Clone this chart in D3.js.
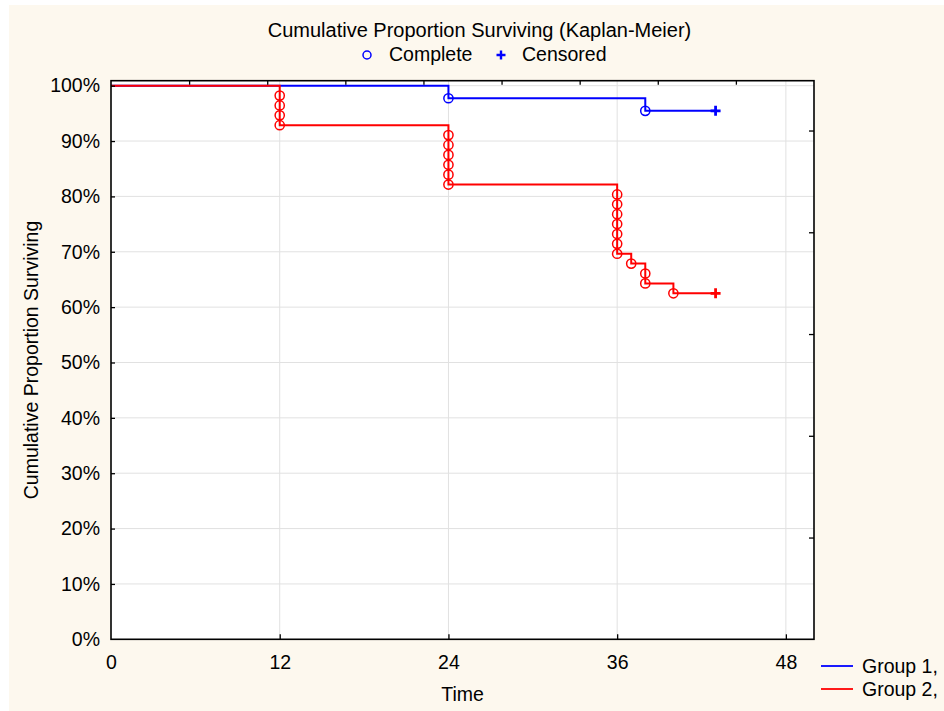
<!DOCTYPE html>
<html>
<head>
<meta charset="utf-8">
<script src="https://cdn.jsdelivr.net/npm/d3@7"></script>
<style>
  html, body { margin: 0; padding: 0; background: #ffffff; }
  svg { display: block; }
  text { font-family: "Liberation Sans", Arial, Helvetica, sans-serif; fill: #000; }
</style>
</head>
<body>
<svg id="chart" width="944" height="711"></svg>
<script>
// Kaplan-Meier estimates per group (time in months, proportion surviving)
const xTicks = [0, 12, 24, 36, 48];
const yTicks = [0, 0.1, 0.2, 0.3, 0.4, 0.5, 0.6, 0.7, 0.8, 0.9, 1.0];
const topTicks = [50 / 9, 100 / 9, 150 / 9, 200 / 9, 250 / 9, 300 / 9, 350 / 9, 400 / 9];
const rightTicks = [0.1838, 0.3676, 0.5514, 0.7352, 0.919];

const groupNames = ["Group 1,", "Group 2,"];
const groupColors = ["#0000ff", "#ff0000"];

// Group 1: complete observations and censored observation
const g1CompleteTime = [24, 38];
const g1CompleteSurv = [0.9773, 0.9545];
const g1CensoredTime = [43];
const g1CensoredSurv = [0.9545];

// Group 2: complete observations and censored observation
const g2CompleteTime = [12, 12, 12, 12, 24, 24, 24, 24, 24, 24, 36, 36, 36, 36, 36, 36, 36, 37, 38, 38, 40];
const g2CompleteSurv = [0.9821, 0.9643, 0.9464, 0.9286,
  0.9107, 0.8929, 0.8750, 0.8571, 0.8393, 0.8214,
  0.8036, 0.7857, 0.7679, 0.7500, 0.7321, 0.7143, 0.6964,
  0.6786, 0.6607, 0.6429, 0.6250];
const g2CensoredTime = [43];
const g2CensoredSurv = [0.6250];

const groups = [
  { complete: g1CompleteTime.map((t, i) => [t, g1CompleteSurv[i]]),
    censored: g1CensoredTime.map((t, i) => [t, g1CensoredSurv[i]]) },
  { complete: g2CompleteTime.map((t, i) => [t, g2CompleteSurv[i]]),
    censored: g2CensoredTime.map((t, i) => [t, g2CensoredSurv[i]]) }
];

const svg = d3.select("#chart");
const W = 944, H = 711;
const plot = { left: 111, right: 814, top: 80.7, bottom: 639.3 };

// page background
svg.append("rect").attr("x", 9).attr("y", 5).attr("width", W - 9).attr("height", H - 5)
  .attr("fill", "#fdf8ee");

const x = d3.scaleLinear().domain([0, 50]).range([plot.left, plot.right]);
const y = d3.scaleLinear().domain([0, 1.009]).range([plot.bottom, plot.top]);

// plot area
svg.append("rect")
  .attr("x", plot.left).attr("y", plot.top)
  .attr("width", plot.right - plot.left).attr("height", plot.bottom - plot.top)
  .attr("fill", "#ffffff");

// grid
const grid = svg.append("g").attr("stroke", "#e1e1e1").attr("stroke-width", 1);
grid.selectAll("line.v").data(xTicks.filter(d => d > 0)).join("line")
  .attr("class", "v")
  .attr("x1", d => x(d)).attr("x2", d => x(d))
  .attr("y1", plot.top).attr("y2", plot.bottom);
grid.selectAll("line.h").data(yTicks.filter(d => d > 0)).join("line")
  .attr("class", "h")
  .attr("x1", plot.left).attr("x2", plot.right)
  .attr("y1", d => y(d)).attr("y2", d => y(d));

// survival step curves
const step = d3.line()
  .x(d => x(d[0])).y(d => y(d[1]))
  .curve(d3.curveStepAfter);

const curves = svg.append("g");
groups.forEach((g, i) => {
  const pts = [[0, 1]].concat(g.complete, g.censored);
  curves.append("path")
    .attr("d", step(pts))
    .attr("fill", "none")
    .attr("stroke", groupColors[i])
    .attr("stroke-width", 2);
});

// complete (circle) and censored (plus) markers
const markers = svg.append("g");
const plusPath = (cx, cy, s) => `M${cx - s},${cy}H${cx + s}M${cx},${cy - s}V${cy + s}`;
groups.forEach((g, i) => {
  markers.append("g").selectAll("circle").data(g.complete).join("circle")
    .attr("cx", d => x(d[0])).attr("cy", d => y(d[1]))
    .attr("r", 4.6)
    .attr("fill", "none")
    .attr("stroke", groupColors[i])
    .attr("stroke-width", 1.5);
  markers.append("g").selectAll("path").data(g.censored).join("path")
    .attr("d", d => plusPath(x(d[0]), y(d[1]), 5))
    .attr("fill", "none")
    .attr("stroke", groupColors[i])
    .attr("stroke-width", 2.8);
});

// axes (ticks point inward)
const fontSize = "19.5px";
const axisLeft = svg.append("g")
  .attr("transform", `translate(${plot.left},0)`)
  .call(d3.axisLeft(y).tickValues(yTicks).tickFormat(d3.format(".0%"))
    .tickSize(-4).tickSizeOuter(0).tickPadding(11));
const axisBottom = svg.append("g")
  .attr("transform", `translate(0,${plot.bottom})`)
  .call(d3.axisBottom(x).tickValues(xTicks).tickFormat(d3.format("d"))
    .tickSize(-5).tickSizeOuter(0).tickPadding(16));
const axisTop = svg.append("g")
  .attr("transform", `translate(0,${plot.top})`)
  .call(d3.axisTop(x).tickValues(topTicks).tickFormat("")
    .tickSize(-4).tickSizeOuter(0));
const axisRight = svg.append("g")
  .attr("transform", `translate(${plot.right},0)`)
  .call(d3.axisRight(y).tickValues(rightTicks).tickFormat("")
    .tickSize(-5).tickSizeOuter(0));

[axisLeft, axisBottom, axisTop, axisRight].forEach(a => {
  a.select(".domain").remove();
  a.selectAll(".tick line").attr("stroke", "#000").attr("stroke-width", 1.3);
  a.selectAll(".tick text").attr("font-size", fontSize).attr("fill", "#000")
    .style("font-family", "'Liberation Sans', Arial, sans-serif");
});
axisBottom.selectAll(".tick").filter(d => d === 0).select("line").remove();
axisLeft.selectAll(".tick").filter(d => d === 0).select("line").remove();

// frame
svg.append("rect")
  .attr("x", plot.left).attr("y", plot.top)
  .attr("width", plot.right - plot.left).attr("height", plot.bottom - plot.top)
  .attr("fill", "none").attr("stroke", "#000").attr("stroke-width", 1.6);

// titles
svg.append("text")
  .attr("x", 479.5).attr("y", 37)
  .attr("text-anchor", "middle").attr("font-size", "20px")
  .text("Cumulative Proportion Surviving (Kaplan-Meier)");

svg.append("text")
  .attr("x", (plot.left + plot.right) / 2).attr("y", 701)
  .attr("text-anchor", "middle").attr("font-size", fontSize)
  .text("Time");

svg.append("text")
  .attr("transform", `translate(38,${(plot.top + plot.bottom) / 2}) rotate(-90)`)
  .attr("text-anchor", "middle").attr("font-size", fontSize)
  .text("Cumulative Proportion Surviving");

// marker legend
const markerLegend = svg.append("g");
markerLegend.append("circle")
  .attr("cx", 367).attr("cy", 55).attr("r", 4)
  .attr("fill", "none").attr("stroke", groupColors[0]).attr("stroke-width", 1.5);
markerLegend.append("text").attr("x", 389).attr("y", 61)
  .attr("font-size", fontSize).text("Complete");
markerLegend.append("path")
  .attr("d", plusPath(501, 55, 4.5))
  .attr("stroke", groupColors[0]).attr("stroke-width", 2.4).attr("fill", "none");
markerLegend.append("text").attr("x", 522).attr("y", 61)
  .attr("font-size", fontSize).text("Censored");

// group legend
const groupLegend = svg.append("g");
groupNames.forEach((name, i) => {
  const ly = 666 + i * 23;
  groupLegend.append("line")
    .attr("x1", 821).attr("x2", 853).attr("y1", ly).attr("y2", ly)
    .attr("stroke", groupColors[i]).attr("stroke-width", 1.8);
  groupLegend.append("text")
    .attr("x", 862).attr("y", ly + 7)
    .attr("font-size", fontSize).text(name);
});
</script>
</body>
</html>
